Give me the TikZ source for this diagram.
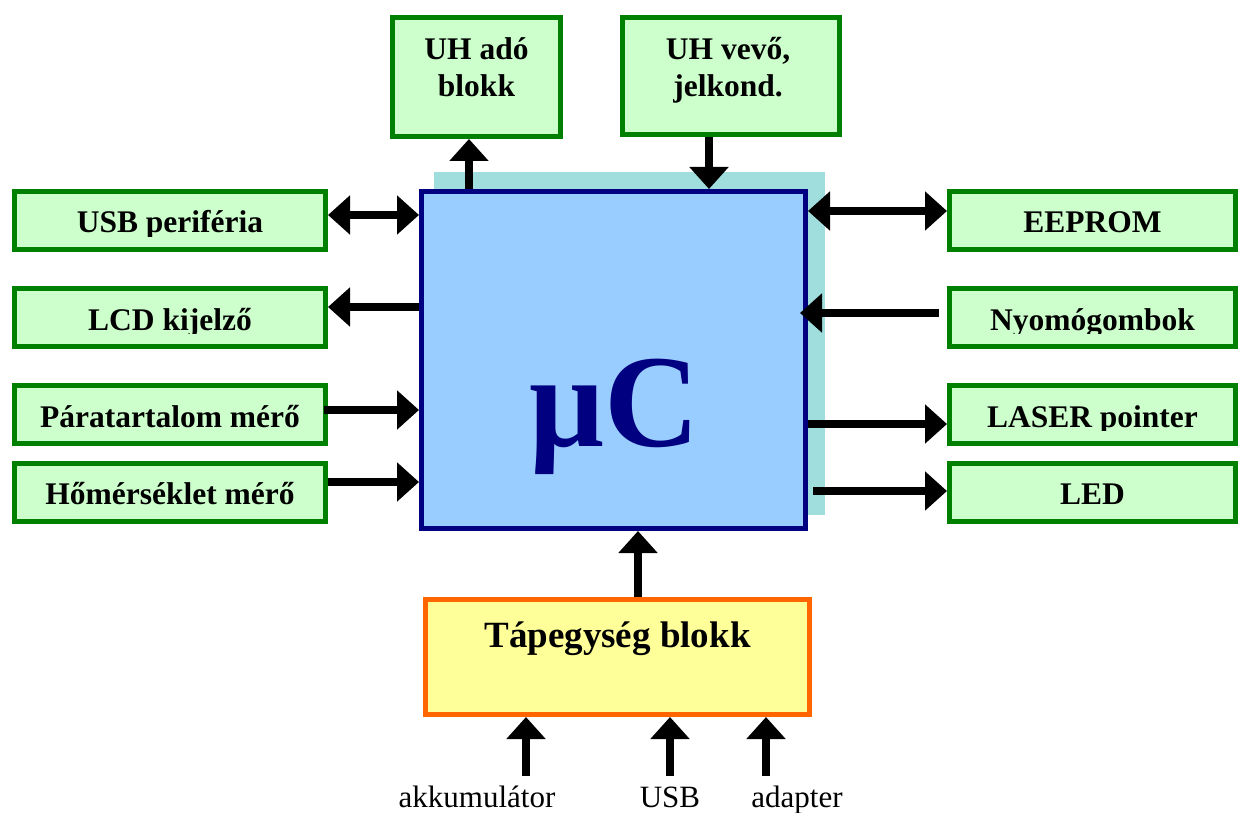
\documentclass[tikz,border=0pt]{standalone}
\usepackage{fontspec}
\setmainfont{Liberation Serif}
\usetikzlibrary{arrows.meta,calc}
\definecolor{boxgreen}{RGB}{0,128,0}
\definecolor{boxgreenfill}{RGB}{204,255,204}
\definecolor{navyb}{RGB}{0,0,128}
\definecolor{ucfill}{RGB}{153,204,255}
\definecolor{shadowcyan}{RGB}{160,222,222}
\definecolor{orangeb}{RGB}{255,102,0}
\definecolor{yellowfill}{RGB}{255,255,153}
\newcommand{\myclippedlabel}[3]{%
  \begin{scope}
    \clip (#1.north west) rectangle ($(#1.east)+(0,15.5)$);
    \node[lbl] (#2) at ($(#1.center)+(0,12.5)$) {#3};
  \end{scope}}
\begin{document}
\begin{tikzpicture}[x=1pt,y=-1pt,
  gbox/.style={draw=boxgreen,fill=boxgreenfill,line width=5pt,rectangle,inner sep=0pt},
  sidebox/.style={gbox,minimum height=58pt},
  leftbox/.style={sidebox,minimum width=311pt},
  rightbox/.style={sidebox,minimum width=286pt},
  lbl/.style={font=\fontsize{31.5}{37}\selectfont\bfseries,anchor=base,inner sep=0pt,align=center},
  botlbl/.style={font=\fontsize{31}{36}\selectfont,anchor=base,inner sep=0pt},
  arr/.style={line width=8pt,-{Triangle[width=38pt,length=22pt]}},
  darr/.style={line width=8pt,{Triangle[width=38pt,length=22pt]}-{Triangle[width=38pt,length=22pt]}}
]
\useasboundingbox (0,0) rectangle (1242,813);

% shadow and microcontroller
\node[fill=shadowcyan,inner sep=0pt,minimum width=391pt,minimum height=343pt] (shadow) at (629.5,343.5) {};
\node[draw=navyb,fill=ucfill,line width=5pt,inner sep=0pt,minimum width=384pt,minimum height=337pt] (uc) at (613.5,360) {};
\node[font=\fontsize{132}{140}\selectfont\bfseries,text=navyb,anchor=base,inner sep=0pt] (uclbl) at (614.5,446) {μC};

% top boxes
\node[gbox,minimum width=168pt,minimum height=119pt] (ado) at (476.5,77) {};
\node[lbl] (adolbl) at ($(ado.center)+(0,20)$) {UH adó\\blokk};
\node[gbox,minimum width=217pt,minimum height=117pt] (vevo) at (731,76) {};
\node[lbl] (vevolbl) at ($(vevo.center)+(-3,21)$) {UH vevő,\\jelkond.};

% left boxes
\node[leftbox] (usb) at (170,220.5) {};
\node[leftbox] (lcd) at (170,317.5) {};
\node[leftbox] (para) at (170,414.5) {};
\node[leftbox] (hom) at (170,492) {};
\myclippedlabel{usb}{usblbl}{USB periféria}
\myclippedlabel{lcd}{lcdlbl}{LCD kijelző}
\myclippedlabel{para}{paralbl}{Páratartalom mérő}
\myclippedlabel{hom}{homlbl}{Hőmérséklet mérő}

% right boxes
\node[rightbox] (eeprom) at (1092.5,220.5) {};
\node[rightbox] (nyomo) at (1092.5,317.5) {};
\node[rightbox] (laser) at (1092.5,414.5) {};
\node[rightbox] (led) at (1092.5,492) {};
\myclippedlabel{eeprom}{eepromlbl}{EEPROM}
\myclippedlabel{nyomo}{nyomolbl}{Nyomógombok}
\myclippedlabel{laser}{laserlbl}{LASER pointer}
\myclippedlabel{led}{ledlbl}{LED}

% power supply
\node[draw=orangeb,fill=yellowfill,line width=5pt,inner sep=0pt,minimum width=384pt,minimum height=115pt] (power) at (617.5,657) {};
\node[font=\fontsize{37}{42}\selectfont\bfseries,anchor=base,inner sep=0pt] (powerlbl) at ($(power.center)+(0,-10)$) {Tápegység blokk};

% bottom labels
\node[botlbl] (akku) at (477,807) {akkumulátor};
\node[botlbl] (usbin) at (670,807) {USB};
\node[botlbl] (adapter) at (797,807) {adapter};

% connectors: top
\draw[arr] ($(ado.south |- uc.north)+(-7.5,0)$) -- ($(ado.south)+(-7.5,0)$);
\draw[arr] ($(vevo.south)+(-22,0)$) -- ($(vevo.south |- uc.north)+(-22,0)$);

% connectors: left
\draw[darr] ($(usb.east)+(0,-5.5)$) -- ($(usb.east -| uc.west)+(0,-5.5)$);
\draw[arr] ($(lcd.east -| uc.west)+(0,-10.5)$) -- ($(lcd.east)+(0,-10.5)$);
\draw[arr] ($(para.east)+(-4,-4.5)$) -- ($(para.east -| uc.west)+(0,-4.5)$);
\draw[arr] ($(hom.east)+(0,-10)$) -- ($(hom.east -| uc.west)+(0,-10)$);

% connectors: right
\draw[darr] ($(eeprom.west -| uc.east)+(0,-9.5)$) -- ($(eeprom.west)+(0,-9.5)$);
\draw[arr] ($(nyomo.west)+(-8,-4.5)$) -- ($(nyomo.west -| uc.east)+(-8,-4.5)$);
\draw[arr] ($(laser.west -| uc.east)+(0,9.5)$) -- ($(laser.west)+(0,9.5)$);
\draw[arr] ($(led.west -| uc.east)+(5,-1)$) -- ($(led.west)+(0,-1)$);

% connectors: power
\draw[arr] ($(power.north)+(20.5,0)$) -- ($(power.north |- uc.south)+(20.5,0)$);
\draw[arr] ($(power.south)+(-91.5,58.5)$) -- ($(power.south)+(-91.5,0)$);
\draw[arr] ($(power.south)+(52.5,58.5)$) -- ($(power.south)+(52.5,0)$);
\draw[arr] ($(power.south)+(148.5,58.5)$) -- ($(power.south)+(148.5,0)$);
\end{tikzpicture}
\end{document}
